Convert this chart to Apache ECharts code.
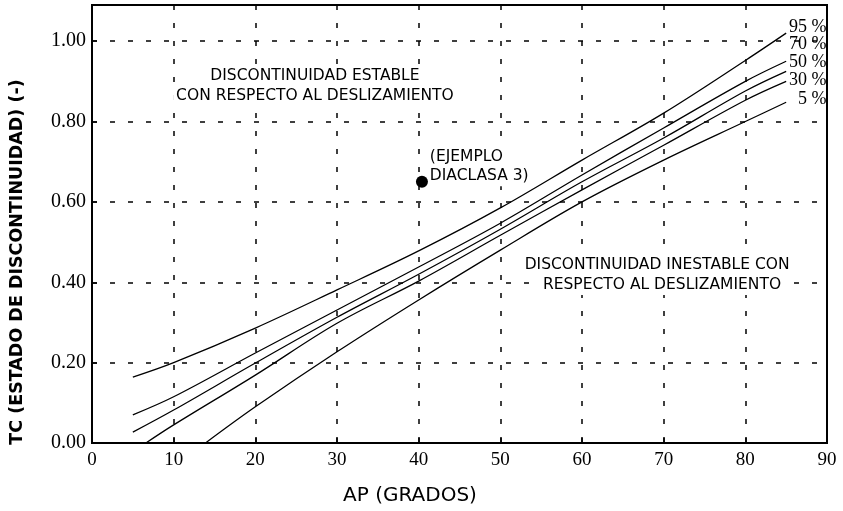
<!DOCTYPE html>
<html>
<head>
<meta charset="utf-8">
<script src="https://cdn.jsdelivr.net/npm/echarts@6/dist/echarts.min.js"></script>
<style>
html,body{margin:0;padding:0;background:#fff;}
#c{width:843px;height:511px;}
</style>
</head>
<body>
<div id="c"></div>
<script>
// ---- data ----
var curveNames = ['95 %', '70 %', '50 %', '30 %', '5 %'];
var x95 = [5, 10, 20, 30, 40, 50, 60, 70, 80, 85];
var y95 = [0.164, 0.20, 0.286, 0.381, 0.478, 0.585, 0.704, 0.821, 0.952, 1.02];
var x70 = [5, 10, 20, 30, 40, 50, 60, 70, 80, 85];
var y70 = [0.07, 0.115, 0.224, 0.331, 0.438, 0.547, 0.667, 0.784, 0.900, 0.95];
var x50 = [5, 10, 20, 30, 40, 50, 60, 70, 80, 85];
var y50 = [0.027, 0.082, 0.199, 0.313, 0.42, 0.532, 0.65, 0.759, 0.876, 0.925];
var x30 = [6.6, 10, 20, 30, 40, 50, 60, 70, 80, 85];
var y30 = [0, 0.045, 0.169, 0.298, 0.403, 0.517, 0.63, 0.741, 0.853, 0.90];
var x5 = [13.9, 20, 30, 40, 50, 60, 70, 80, 85];
var y5 = [0, 0.09, 0.227, 0.356, 0.48, 0.6, 0.704, 0.80, 0.848];
var examplePoint = [40.4, 0.65];
var xTicks = [0, 10, 20, 30, 40, 50, 60, 70, 80, 90];
var yTicks = [0, 0.2, 0.4, 0.6, 0.8, 1.0];

function zip(xs, ys) { return xs.map(function (x, i) { return [x, ys[i]]; }); }
var curves = [zip(x95, y95), zip(x70, y70), zip(x50, y50), zip(x30, y30), zip(x5, y5)];

// label anchor positions (data coords)
var curveLabelPos = [[90, 1.035], [90, 0.992], [90, 0.947], [90, 0.902], [90, 0.856]];

var chart = echarts.init(document.getElementById('c'), null, {renderer: 'canvas'});

var series = curves.map(function (d, i) {
  return {
    type: 'line', data: d, smooth: 0.35, symbol: 'none', silent: true,
    lineStyle: {color: '#000', width: 1.3}, z: 3
  };
});
series.push({
  type: 'scatter', data: [examplePoint], symbolSize: 12,
  itemStyle: {color: '#000', opacity: 1}, z: 8, silent: true
});
series.push({
  type: 'scatter', symbolSize: 1, silent: true, z: 6, clip: false,
  itemStyle: {opacity: 0},
  data: curveNames.map(function (n, i) { return {value: curveLabelPos[i], name: n}; }),
  label: {show: true, position: 'left', distance: 0, formatter: '{b}', opacity: 1,
    fontFamily: 'Liberation Serif', fontSize: 18, color: '#000'}
});
var sans = 'DejaVu Sans';
var textItems = [
  {v: [27.3, 0.913], t: 'DISCONTINUIDAD ESTABLE', a: 'center'},
  {v: [27.3, 0.863], t: 'CON RESPECTO AL DESLIZAMIENTO', a: 'center'},
  {v: [69.2, 0.443], t: 'DISCONTINUIDAD INESTABLE CON', a: 'center'},
  {v: [69.8, 0.393], t: 'RESPECTO AL DESLIZAMIENTO', a: 'center'},
  {v: [41.0, 0.711], t: '(EJEMPLO', a: 'left'},
  {v: [41.0, 0.664], t: 'DIACLASA 3)', a: 'left'}
];
series.push({
  type: 'scatter', symbolSize: 1, silent: true, z: 6, clip: false,
  itemStyle: {opacity: 0},
  data: textItems.map(function (o) {
    return {value: o.v, name: o.t, label: {align: o.a}};
  }),
  label: {show: true, position: 'inside', formatter: '{b}', fontFamily: sans, opacity: 1,
    fontSize: 15.5, color: '#000', verticalAlign: 'middle',
    backgroundColor: '#fff', padding: [2, 3]}
});

chart.setOption({
  animation: false,
  backgroundColor: '#fff',
  grid: {left: 92, right: 16, top: 5, bottom: 68, show: true, borderColor: '#000', borderWidth: 2},
  xAxis: {
    type: 'value', min: 0, max: 90, interval: 10,
    axisLine: {lineStyle: {color: '#000', width: 2}},
    axisTick: {inside: true, length: 5, lineStyle: {color: '#000', width: 1.5}},
    axisLabel: {color: '#000', fontFamily: 'Liberation Serif', fontSize: 19, margin: 8},
    splitLine: {show: true, lineStyle: {color: '#000', width: 1.5, type: [5, 13]}}
  },
  yAxis: {
    type: 'value', min: 0, max: 1.09, interval: 0.2,
    axisLine: {show: true, lineStyle: {color: '#000', width: 2}},
    axisTick: {show: true, inside: true, length: 5, lineStyle: {color: '#000', width: 1.5}},
    axisLabel: {color: '#000', fontFamily: 'Liberation Serif', fontSize: 20, margin: 6,
      formatter: function (v) { return yTicks.some(function (t) { return Math.abs(t - v) < 1e-6; }) ? v.toFixed(2) : ''; }},
    splitLine: {show: true, lineStyle: {color: '#000', width: 1.5, type: [5, 13]}}
  },
  graphic: [
    {type: 'text', x: 410, y: 496, style: {text: 'AP (GRADOS)', fontFamily: sans, fontSize: 20,
      fill: '#000', textAlign: 'center', textVerticalAlign: 'middle'}},
    {type: 'text', x: 17, y: 262, rotation: Math.PI / 2, style: {text: 'TC (ESTADO DE DISCONTINUIDAD) (-)',
      fontFamily: sans, fontSize: 17.5, fontWeight: 'bold', fill: '#000', textAlign: 'center', textVerticalAlign: 'middle'}}
  ],
  series: series
});
</script>
</body>
</html>
